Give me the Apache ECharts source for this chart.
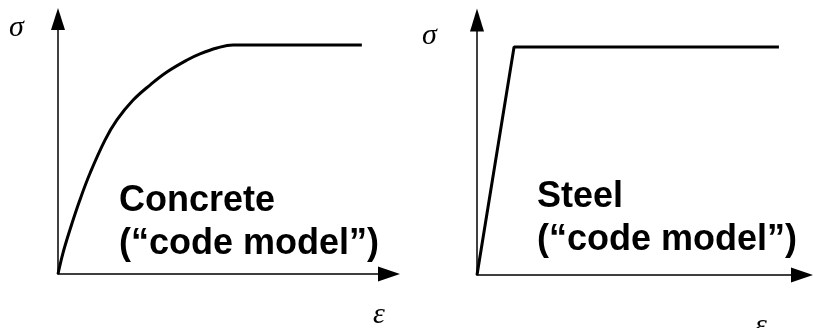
<!DOCTYPE html>
<html>
<head>
<meta charset="utf-8">
<script src="https://cdn.jsdelivr.net/npm/echarts@6/dist/echarts.min.js"></script>
<style>
  html, body { margin: 0; padding: 0; background: #fff; }
  #chart { width: 813px; height: 328px; }
</style>
</head>
<body>
<div id="chart"></div>
<script>
// strain (normalised to axis length) and stress (normalised to axis height)
const concreteStrain = [0, 0.015, 0.036, 0.066, 0.097, 0.142, 0.178, 0.227, 0.278, 0.329, 0.390, 0.429, 0.480, 0.529, 0.918]
const concreteStress = [0, 0.082, 0.173, 0.290, 0.396, 0.525, 0.604, 0.682, 0.741, 0.792, 0.839, 0.863, 0.886, 0.898, 0.898]
const steelStrain = [0, 0.114, 0.929]
const steelStress = [0, 0.894, 0.894]

const labels = {
  stress: 'σ',
  strain: 'ε',
  concrete: 'Concrete\n(“code model”)',
  steel: 'Steel\n(“code model”)'
}

const zip = (xs, ys) => xs.map((x, i) => [x, ys[i]])

const chart = echarts.init(document.getElementById('chart'))

const axisStyle = (symbolSize) => ({
  type: 'value',
  min: 0,
  max: 1,
  axisLine: {
    show: true,
    onZero: false,
    symbol: ['none', 'triangle'],
    symbolSize: symbolSize,
    lineStyle: { color: '#000', width: 1.5 }
  },
  axisTick: { show: false },
  axisLabel: { show: false },
  splitLine: { show: false }
})

const lineSeries = (idx, data) => ({
  type: 'line',
  xAxisIndex: idx,
  yAxisIndex: idx,
  data: data,
  showSymbol: false,
  smooth: idx === 0 ? 0.4 : false,
  lineStyle: { color: '#000', width: 3 },
  clip: false,
  animation: false
})

const textStyle = (text, x, y, font, extra) => ({
  type: 'text',
  x: x,
  y: y,
  style: Object.assign({
    text: text,
    fill: '#000',
    font: font
  }, extra || {})
})

const bigFont = 'bold 36px "Liberation Sans", Arial, sans-serif'
const greekFont = 'italic 30px "Liberation Serif", "DejaVu Serif", serif'

chart.setOption({
  backgroundColor: '#fff',
  animation: false,
  grid: [
    { left: 58, top: 19, width: 331, height: 255 },
    { left: 477, top: 20, width: 325, height: 255 }
  ],
  xAxis: [
    Object.assign(axisStyle([15, 22]), { gridIndex: 0 }),
    Object.assign(axisStyle([15, 22]), { gridIndex: 1 })
  ],
  yAxis: [
    Object.assign(axisStyle([14, 22]), { gridIndex: 0 }),
    Object.assign(axisStyle([14, 23]), { gridIndex: 1 })
  ],
  series: [
    lineSeries(0, zip(concreteStrain, concreteStress)),
    lineSeries(1, zip(steelStrain, steelStress))
  ],
  graphic: [
    textStyle(labels.stress, 9, 28, greekFont, { verticalAlign: 'middle' }),
    textStyle(labels.stress, 422, 36, greekFont, { verticalAlign: 'middle' }),
    textStyle(labels.strain, 373, 315, greekFont, { verticalAlign: 'middle' }),
    textStyle(labels.strain, 755, 326, greekFont, { verticalAlign: 'middle' }),
    textStyle(labels.concrete, 119, 180, bigFont, { verticalAlign: 'top', lineHeight: 43 }),
    textStyle(labels.steel, 537, 176, bigFont, { verticalAlign: 'top', lineHeight: 43 })
  ]
})
</script>
</body>
</html>
